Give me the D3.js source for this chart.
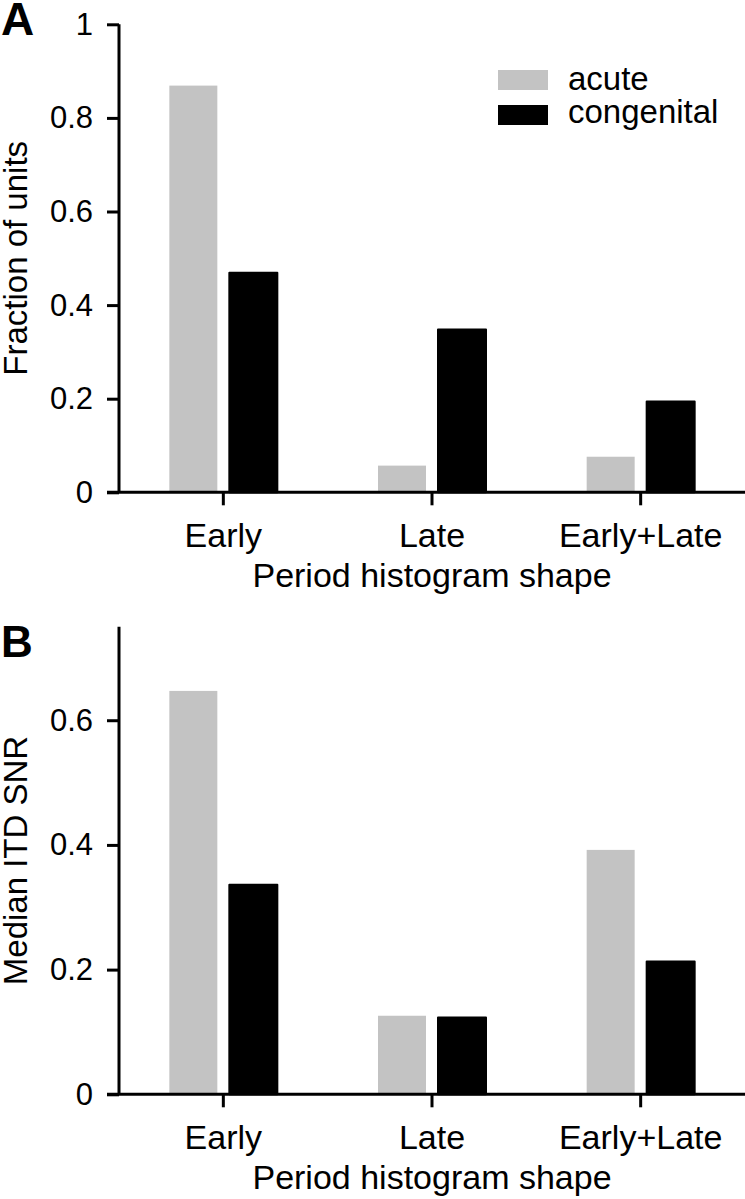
<!DOCTYPE html>
<html><head><meta charset="utf-8">
<script src="https://cdn.jsdelivr.net/npm/d3@7"></script>
<style>body{margin:0;background:#fff}svg{display:block;font-family:"Liberation Sans",Arial,sans-serif}</style>
</head><body>
<script>
const categories = ["Early", "Late", "Early+Late"];
const seriesNames = ["acute", "congenital"];
const fractionAcute = [0.869, 0.057, 0.076];
const fractionCongenital = [0.469, 0.348, 0.194];
const snrAcute = [0.647, 0.126, 0.392];
const snrCongenital = [0.336, 0.123, 0.213];
const ticksA = [0, 0.2, 0.4, 0.6, 0.8, 1];
const ticksB = [0, 0.2, 0.4, 0.6];
const colors = {acute: "#c3c3c3", congenital: "#000000"};

const W = 745, H = 1199;
const svg = d3.select("body").append("svg").attr("width", W).attr("height", H);

const x = d3.scaleBand().domain(categories).range([119, 745]).padding(0);
const xs = d3.scaleBand().domain(seriesNames).range([-54, 54]).paddingInner(0.2);

function panel(cfg) {
  const g = svg.append("g");
  const y = d3.scaleLinear().domain(cfg.domain).range(cfg.range);
  const rows = categories.map((c, i) => ({c, vals: [
    {s: "acute", v: cfg.a[i]}, {s: "congenital", v: cfg.b[i]}]}));
  const cg = g.selectAll(".cat").data(rows).join("g")
    .attr("transform", d => `translate(${x(d.c) + x.bandwidth() / 2},0)`);
  cg.selectAll("rect").data(d => d.vals).join("rect")
    .attr("x", d => xs(d.s))
    .attr("y", d => y(d.v))
    .attr("width", xs.bandwidth())
    .attr("height", d => y(0) - y(d.v))
    .attr("fill", d => colors[d.s])
    .attr("stroke", d => d.s === "congenital" ? "#000" : "none")
    .attr("stroke-width", 2)
    .attr("stroke-linejoin", "round");
  const ya = g.append("g").attr("transform", "translate(119,0)")
    .call(d3.axisLeft(y).tickValues(cfg.ticks).tickFormat(d3.format("")).tickSize(12).tickPadding(14).tickSizeOuter(0));
  ya.select(".domain").attr("stroke-width", 3).attr("d", `M0,${cfg.range[0]}V${cfg.range[1]}`);
  ya.selectAll(".tick line").attr("stroke-width", 3);
  ya.selectAll(".tick text").attr("font-size", 31).attr("fill", "#000")
    .attr("font-family", "Liberation Sans, Arial, sans-serif");
  const xa = g.append("g").attr("transform", `translate(0,${cfg.range[0]})`)
    .call(d3.axisBottom(x).tickSize(13).tickPadding(20).tickSizeOuter(0));
  xa.select(".domain").attr("stroke-width", 3).attr("d", "M107,0H745");
  xa.selectAll(".tick line").attr("stroke-width", 3);
  xa.selectAll(".tick text").attr("font-size", 34).attr("fill", "#000")
    .attr("font-family", "Liberation Sans, Arial, sans-serif")
    .attr("dy", null).attr("y", 54.5);
  g.append("text").attr("x", (119 + 745) / 2).attr("y", cfg.range[0] + 95)
    .attr("text-anchor", "middle").attr("font-size", 34).text("Period histogram shape");
  g.append("text").attr("transform", `translate(27,${(cfg.range[0] + cfg.range[1]) / 2}) rotate(-90)`)
    .attr("text-anchor", "middle").attr("font-size", 33).text(cfg.ytitle);
  g.append("text").attr("x", 1).attr("y", cfg.letterY).attr("font-size", cfg.letterSize)
    .attr("font-weight", "bold").text(cfg.letter);
}

panel({domain: [0, 1], range: [492.3, 24.3], a: fractionAcute, b: fractionCongenital,
  ticks: ticksA, ytitle: "Fraction of units", letter: "A", letterY: 35, letterSize: 46});
panel({domain: [0, 0.75], range: [1094.3, 626.7], a: snrAcute, b: snrCongenital,
  ticks: ticksB, ytitle: "Median ITD SNR", letter: "B", letterY: 657, letterSize: 44});

const lg = svg.append("g").attr("transform", "translate(498,70)");
lg.selectAll("rect").data(seriesNames).join("rect")
  .attr("x", 0).attr("y", (d, i) => i * 35).attr("width", 50).attr("height", 20)
  .attr("fill", d => colors[d]);
lg.selectAll("text").data(seriesNames).join("text")
  .attr("x", 70).attr("y", (d, i) => 20 + i * 33).attr("font-size", 33).text(d => d);
</script>
</body></html>
